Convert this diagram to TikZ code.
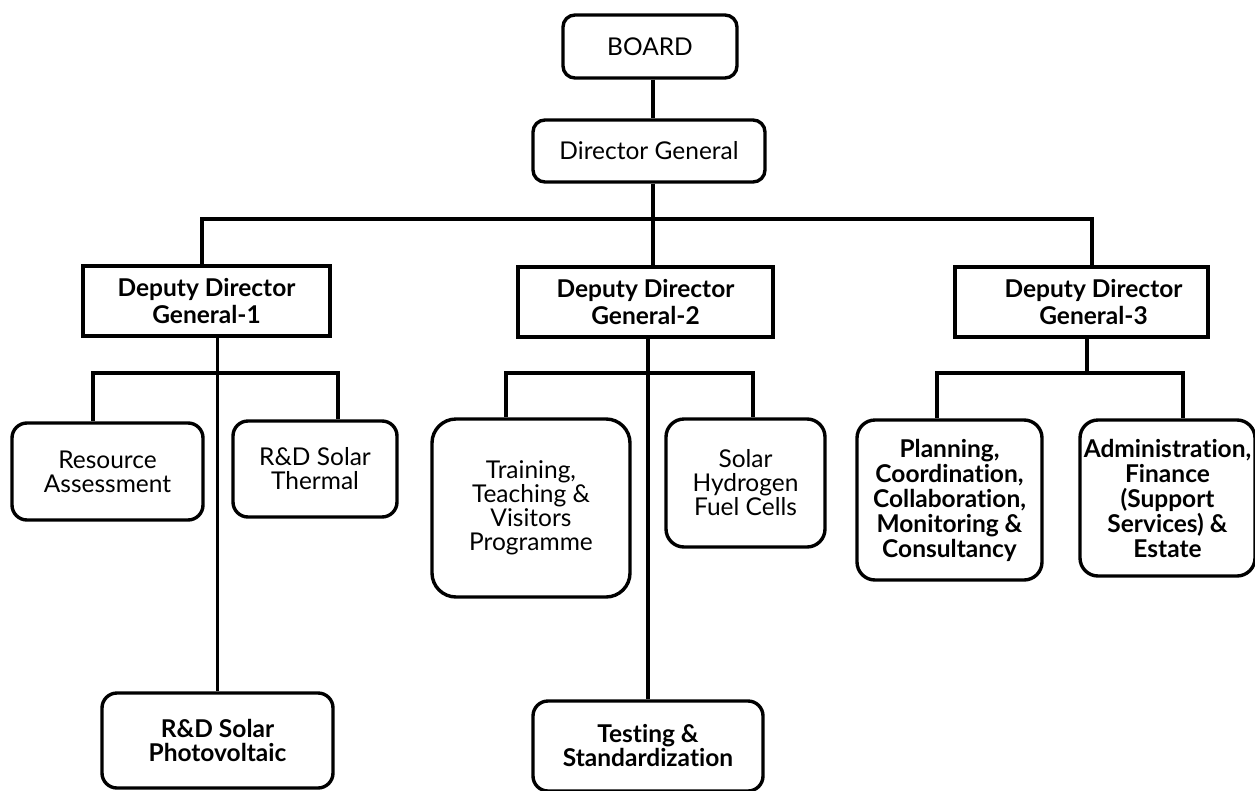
\documentclass[tikz,border=0pt]{standalone}
\usepackage{fontspec}
\setmainfont{Lato}[Ligatures={NoCommon,NoContextual}]
\begin{document}
\begin{tikzpicture}[x=1pt,y=-1pt,
  rbox/.style={draw, line width=3.4pt, rounded corners=12pt, align=center, inner sep=0pt, font=\fontsize{24.5}{24}\selectfont},
  rboxb/.style={rbox, font=\bfseries\fontsize{24.5}{24}\selectfont},
  sbox/.style={draw, line width=3.4pt, align=center, inner sep=0pt, font=\bfseries\fontsize{24.5}{27}\selectfont},
  conn/.style={line width=3.2pt}]
\useasboundingbox (0,0) rectangle (1255,790);
\fill[white] (0,0) rectangle (1255,790);
% top
\node[rbox, minimum width=174pt, minimum height=63pt] (board) at (650,46.5) {BOARD};
\node[rbox, minimum width=232pt, minimum height=62pt] (dg) at (649,151) {Director General};
% deputies
\node[sbox, minimum width=247pt, minimum height=70pt] (ddg1) at (206.5,301) {Deputy Director\\General-1};
\node[sbox, minimum width=255pt, minimum height=70pt] (ddg2) at (645.5,302) {Deputy Director\\General-2};
\node[sbox, minimum width=253pt, minimum height=70pt] (ddg3) at (1081.5,302) {\hspace*{24pt}Deputy Director\\\hspace*{24pt}General-3};
% leaves
\node[rbox, minimum width=191pt, minimum height=97pt, rounded corners=15pt] (res) at (107.5,471.5) {Resource\\Assessment};
\node[rbox, minimum width=164pt, minimum height=96pt, rounded corners=15pt] (th) at (315,469) {R\&D Solar\\Thermal};
\node[rboxb, minimum width=231pt, minimum height=95pt, rounded corners=15pt] (pv) at (217.5,740.5) {R\&D Solar\\Photovoltaic};
\node[rbox, minimum width=198pt, minimum height=178pt, rounded corners=24pt] (tr) at (531,508) {Training,\\Teaching \&\\Visitors\\Programme};
\node[rbox, minimum width=159pt, minimum height=128pt, rounded corners=18pt] (hy) at (745.5,483) {Solar\\Hydrogen\\Fuel Cells};
\node[rboxb, minimum width=230pt, minimum height=90pt, rounded corners=15pt] (ts) at (648,746) {Testing \&\\Standardization};
\node[rboxb, minimum width=185pt, minimum height=160pt, rounded corners=18pt, font=\bfseries\fontsize{24.5}{25}\selectfont] (pl) at (949.5,500) {Planning,\\Coordination,\\Collaboration,\\Monitoring \&\\Consultancy};
\node[rboxb, minimum width=175pt, minimum height=156pt, rounded corners=18pt, font=\bfseries\fontsize{24.5}{25}\selectfont] (ad) at (1167.5,498) {Administration,\\Finance\\(Support\\Services) \&\\Estate};
% connectors
\coordinate (bar0) at (653,219);
\draw[conn] (board.south -| bar0) -- (bar0 |- dg.north);
\draw[conn] (dg.south -| bar0) -- (bar0 |- ddg2.north);
\draw[conn] ([xshift=-4.5pt]ddg1.north) |- (bar0) -| ([xshift=10.5pt]ddg3.north);
\coordinate (j1) at (218,373);
\draw[conn] (ddg1.south -| pv.north) -- (pv.north);
\draw[conn] ([xshift=-14.5pt]res.north) |- (j1) -| ([xshift=23pt]th.north);
\coordinate (j2) at (647,373);
\draw[conn] (ddg2.south -| ts.north) -- (ts.north);
\draw[conn] ([xshift=-25pt]tr.north) |- (j2) -| ([xshift=7.5pt]hy.north);
\coordinate (j3) at (1087,373);
\draw[conn] (ddg3.south -| j3) -- (j3);
\draw[conn] ([xshift=-12.5pt]pl.north) |- (j3) -| ([xshift=15.5pt]ad.north);
\end{tikzpicture}
\end{document}
